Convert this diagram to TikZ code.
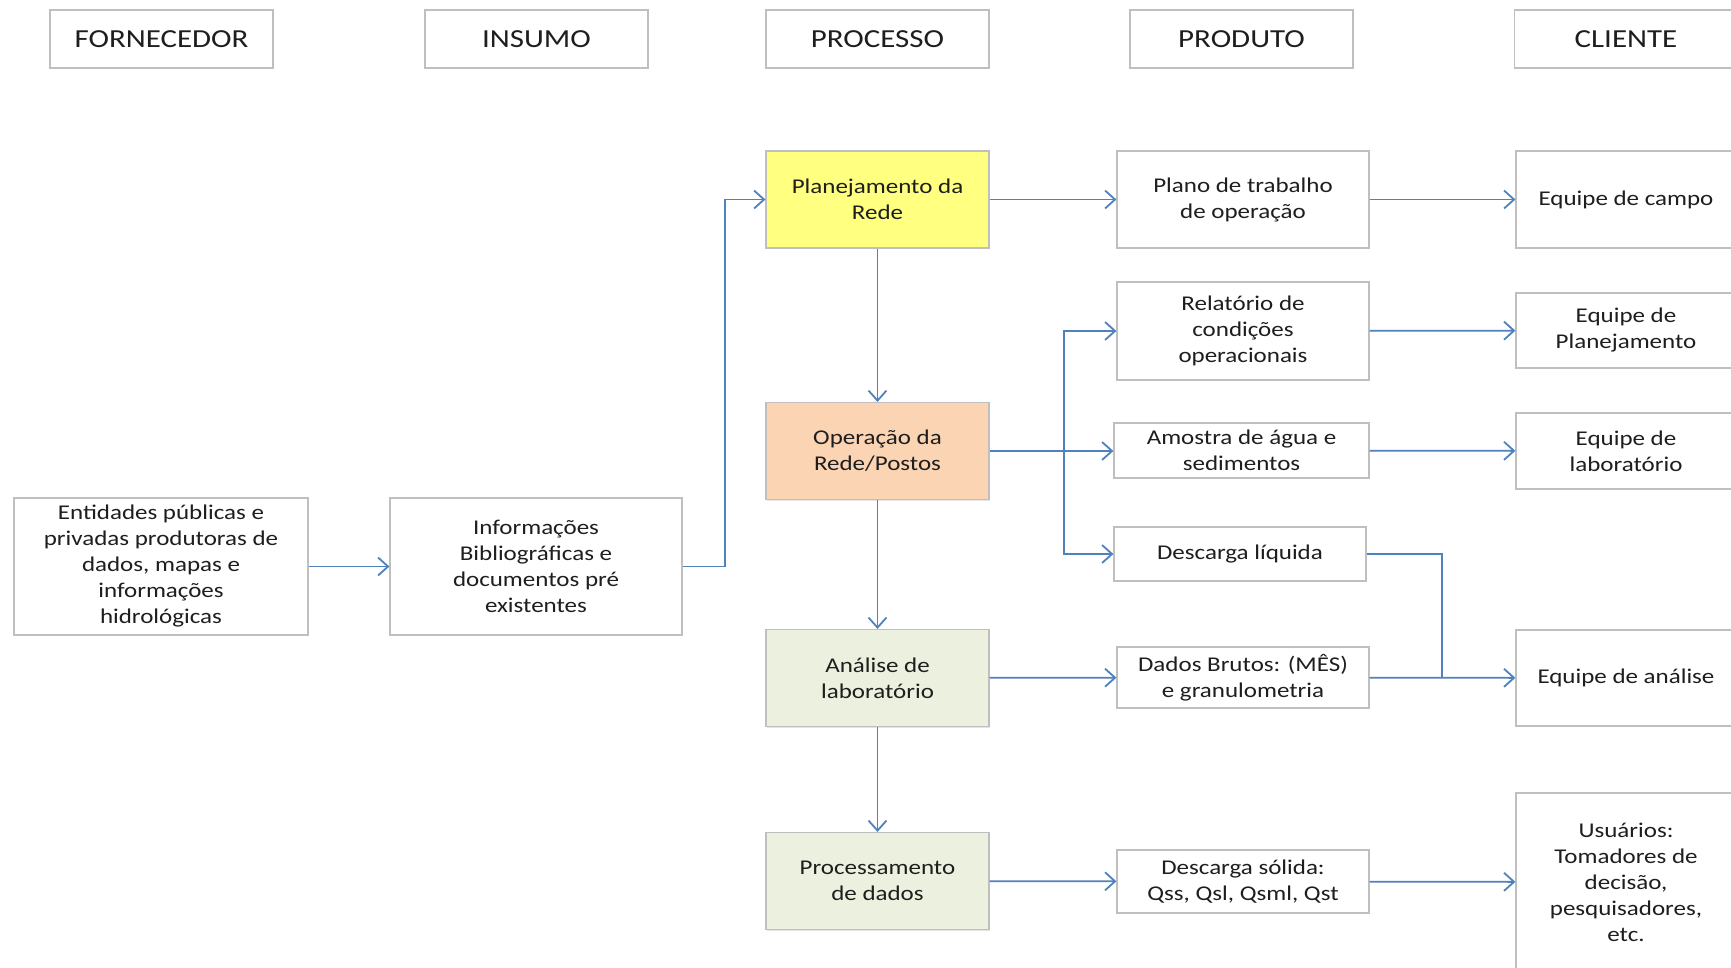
\documentclass[tikz,border=0pt]{standalone}
\usepackage{fontspec}
\setmainfont{Carlito}[FakeStretch=1.19]
\usetikzlibrary{arrows.meta}
\usetikzlibrary{positioning}
\usetikzlibrary{shadows}
\definecolor{borda}{HTML}{BFBFBF}
\definecolor{azul}{HTML}{4F81BD}
\definecolor{amarelo}{HTML}{FFFF80}
\definecolor{salmao}{HTML}{FBD4B4}
\definecolor{verde}{HTML}{EBF1DE}
\definecolor{texto}{HTML}{1E1E1E}

\begin{document}
\begin{tikzpicture}[x=0.5pt, y=-0.5pt, >={Straight Barb[length=5pt,width=9pt]},
  caixa/.style={draw=borda, line width=0.6pt, fill=white, align=center, text=texto,
    inner sep=1pt, font=\fontsize{10.5}{13}\selectfont,
    drop shadow={shadow xshift=0.7pt, shadow yshift=-0.7pt, opacity=0.25, fill=black!40}},
  cabeca/.style={caixa, minimum width=111.5pt, minimum height=29pt,
    font=\fontsize{13}{15}\selectfont},
  proc/.style={caixa, minimum width=111.5pt, minimum height=48.5pt},
  prod/.style={caixa, minimum width=126pt},
  cli/.style={caixa, minimum width=110pt},
  fluxo/.style={draw=azul, line width=0.9pt, ->},
  linha/.style={draw=azul, line width=0.9pt}]

  \useasboundingbox (0,0) rectangle (1731,968);
  \fill[white] (0,0) rectangle (1731,968);

  % cabecalhos
  \node[cabeca] (forn) at (161.5,39) {FORNECEDOR};
  \node[cabeca] (insu) at (536.5,39) {INSUMO};
  \node[cabeca] (proc) at (877.5,39) {PROCESSO};
  \node[cabeca] (prdt) at (1241.5,39) {PRODUTO};
  \node[cabeca] (clie) at (1626,39) {CLIENTE};

  % fornecedor e insumo
  \node[caixa, minimum width=147pt, minimum height=68.5pt] (enti) at (161,566.5)
    {Entidades públicas e\\privadas produtoras de\\dados, mapas e\\informações\\hidrológicas};
  \node[caixa, minimum width=146pt, minimum height=68.5pt] (info) at (536,566.5)
    {Informações\\Bibliográficas e\\documentos pré\\existentes};

  % processo
  \node[proc, fill=amarelo] (plan) at (877.5,199.5) {Planejamento da\\Rede};
  \node[proc, fill=salmao] (oper) at (877.5,451) {Operação da\\Rede/Postos};
  \node[proc, fill=verde] (anal) at (877.5,678) {Análise de\\laboratório};
  \node[proc, fill=verde] (pdad) at (877.5,881) {Processamento\\de dados};

  % produto
  \node[prod, minimum height=48.5pt] (plano) at (1243,199.5) {Plano de trabalho\\de operação};
  \node[prod, minimum height=49pt] (rela) at (1243,331) {Relatório de\\condições\\operacionais};
  \node[prod, minimum width=127.5pt, minimum height=27.5pt] (amos) at (1241.5,450.5)
    {Amostra de água e\\sedimentos};
  \node[prod, minimum height=27pt] (desl) at (1240,554) {Descarga líquida};
  \node[prod, minimum height=30.5pt] (dbru) at (1243,677.5) {Dados Brutos: (MÊS)\\e granulometria};
  \node[prod, minimum height=31.5pt] (dsol) at (1243,881.5) {Descarga sólida:\\Qss, Qsl, Qsml, Qst};

  % cliente
  \node[cli, minimum height=48.5pt] (ecam) at (1626,199.5) {Equipe de campo};
  \node[cli, minimum height=37.5pt] (epla) at (1626,330.5) {Equipe de\\Planejamento};
  \node[cli, minimum height=38pt] (elab) at (1626,451) {Equipe de\\laboratório};
  \node[cli, minimum height=48pt] (eana) at (1626,678) {Equipe de análise};
  \node[cli, minimum height=89pt] (usua) at (1626,882)
    {Usuários:\\Tomadores de\\decisão,\\pesquisadores,\\etc.};

  % ligacoes
  \draw[fluxo] (enti) -- (info);
  \draw[fluxo] (info.east) -- ++(42,0) |- (plan.west);
  \draw[fluxo] (plan) -- (plano);
  \draw[fluxo] (plano) -- (ecam);
  \draw[fluxo] (plan) -- (oper);
  \draw[fluxo] (oper.east) -- (oper.east -| amos.west);
  \coordinate (ramo) at (1064,451);
  \draw[fluxo] (ramo) |- (rela.west);
  \draw[fluxo] (ramo) |- (desl.west);
  \draw[fluxo] (rela) -- (epla);
  \draw[fluxo] (amos) -- (elab);
  \draw[fluxo] (oper) -- (anal);
  \draw[fluxo] (anal) -- (dbru);
  \draw[fluxo] (dbru) -- (eana);
  \coordinate (junta) at (1442,678);
  \draw[linha] (desl.east) -| (junta);
  \draw[fluxo] (anal) -- (pdad);
  \draw[fluxo] (pdad) -- (dsol);
  \draw[fluxo] (dsol) -- (usua);
\end{tikzpicture}
\end{document}
